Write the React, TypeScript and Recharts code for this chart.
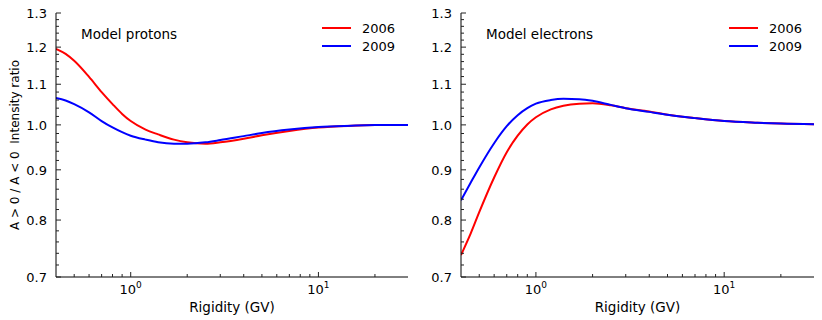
import React from "react";
import { LineChart, Line, XAxis, YAxis, Legend } from "recharts";

// rigidity grid (GV) shared by all curves
const RIGIDITY = [0.4, 0.45, 0.5, 0.6, 0.7, 0.8, 0.9, 1, 1.2, 1.4, 1.7, 2, 2.5, 3, 4, 5, 7, 10, 15, 20, 30];

const PROTONS_2006 = [1.195, 1.181, 1.162, 1.119, 1.08, 1.05, 1.026, 1.009, 0.989, 0.978, 0.966, 0.96, 0.957, 0.96, 0.968, 0.976, 0.986, 0.994, 0.998, 0.9995, 1.0];
const PROTONS_2009 = [1.065, 1.059, 1.05, 1.03, 1.009, 0.994, 0.983, 0.975, 0.966, 0.96, 0.957, 0.957, 0.96, 0.965, 0.974, 0.981, 0.989, 0.995, 0.998, 0.9995, 1.0];

const ELECTRONS_2006 = [0.737, 0.775, 0.815, 0.884, 0.938, 0.975, 1.001, 1.018, 1.037, 1.046, 1.051, 1.052, 1.047, 1.04, 1.032, 1.024, 1.016, 1.009, 1.005, 1.003, 1.0015];
const ELECTRONS_2009 = [0.838, 0.873, 0.905, 0.958, 0.997, 1.023, 1.04, 1.051, 1.06, 1.063, 1.062, 1.058, 1.048, 1.04, 1.031, 1.024, 1.016, 1.009, 1.005, 1.003, 1.0015];

const X_MAJOR = [1, 10];
const X_MINOR = [0.5, 0.6, 0.7, 0.8, 0.9, 2, 3, 4, 5, 6, 7, 8, 9, 20];
const Y_MAJOR = [0.7, 0.8, 0.9, 1.0, 1.1, 1.2, 1.3];
const Y_MINOR = [
  0.72, 0.74, 0.76, 0.78, 0.82, 0.84, 0.86, 0.88, 0.92, 0.94, 0.96, 0.98,
  1.02, 1.04, 1.06, 1.08, 1.12, 1.14, 1.16, 1.18, 1.22, 1.24, 1.26, 1.28,
];

const FONT = "DejaVu Sans";
const MAJOR_LEN = 5;
const MINOR_LEN = 3;
const Y_AXIS_W = 40;

const protonData = RIGIDITY.map((r, i) => ({ r, y2006: PROTONS_2006[i], y2009: PROTONS_2009[i] }));
const electronData = RIGIDITY.map((r, i) => ({ r, y2006: ELECTRONS_2006[i], y2009: ELECTRONS_2009[i] }));

const isMajor = (v: number, majors: number[]) => majors.some((m) => Math.abs(m - v) < 1e-9);

function BottomTick({ x, y, payload }: any) {
  const v = payload.value;
  const major = isMajor(v, X_MAJOR);
  return (
    <g>
      <line x1={x} x2={x} y1={y} y2={y - (major ? MAJOR_LEN : MINOR_LEN)} stroke="#222" />
      {major && (
        <text x={x} y={y + 17} textAnchor="middle" fontFamily={FONT} fontSize={13} fill="#000">
          <tspan>10</tspan>
          <tspan dy={-6} fontSize={9}>{Math.round(Math.log10(v))}</tspan>
        </text>
      )}
    </g>
  );
}

function TopTick({ x, y, payload }: any) {
  const major = isMajor(payload.value, X_MAJOR);
  return <line x1={x} x2={x} y1={y} y2={y + (major ? MAJOR_LEN : MINOR_LEN)} stroke="#222" />;
}

function LeftTick({ x, y, payload }: any) {
  const v = payload.value;
  const major = isMajor(v, Y_MAJOR);
  return (
    <g>
      <line x1={x} x2={x + (major ? MAJOR_LEN : MINOR_LEN)} y1={y} y2={y} stroke="#222" />
      {major && (
        <text x={x - 9} y={y} dy="0.36em" textAnchor="end" fontFamily={FONT} fontSize={13} fill="#000">
          {v.toFixed(1)}
        </text>
      )}
    </g>
  );
}

function RightTick({ x, y, payload }: any) {
  const major = isMajor(payload.value, Y_MAJOR);
  return <line x1={x} x2={x - (major ? MAJOR_LEN : MINOR_LEN)} y1={y} y2={y} stroke="#222" />;
}

function LegendBox({ payload }: any) {
  return (
    <div style={{ fontFamily: FONT, fontSize: 13, color: "#000" }}>
      {(payload || []).map((item: any) => (
        <div key={item.value} style={{ display: "flex", alignItems: "center", height: 18 }}>
          <span style={{ display: "inline-block", width: 29, height: 2, background: item.color, marginRight: 11 }} />
          <span>{item.value}</span>
        </div>
      ))}
    </div>
  );
}

function Panel({
  data,
  title,
  yLabel,
  marginLeft,
  marginRight,
  legendLeft,
}: {
  data: any[];
  title: string;
  yLabel?: string;
  marginLeft: number;
  marginRight: number;
  legendLeft: number;
}) {
  const xTicks = [...X_MINOR, ...X_MAJOR].sort((a, b) => a - b);
  const yTicks = [...Y_MINOR, ...Y_MAJOR].sort((a, b) => a - b);
  return (
    <LineChart
      width={411}
      height={320}
      data={data}
      margin={{ top: 13, right: marginRight, bottom: 0, left: marginLeft }}
    >
      <XAxis
        xAxisId="b"
        dataKey="r"
        type="number"
        scale="log"
        domain={[0.4, 30]}
        allowDataOverflow
        ticks={xTicks}
        interval={0}
        tickSize={0}
        tickMargin={0}
        tickLine={false}
        axisLine={{ stroke: "#000" }}
        height={43}
        tick={(p: any) => <BottomTick {...p} />}
        label={{
          content: ({ viewBox }: any) => (
            <text
              x={viewBox.x + viewBox.width / 2}
              y={viewBox.y + 35}
              textAnchor="middle"
              fontFamily={FONT}
              fontSize={13.5}
              fill="#000"
            >
              Rigidity (GV)
            </text>
          ),
        }}
      />
      <XAxis
        xAxisId="t"
        orientation="top"
        dataKey="r"
        type="number"
        scale="log"
        domain={[0.4, 30]}
        allowDataOverflow
        ticks={xTicks}
        interval={0}
        tickSize={0}
        tickMargin={0}
        tickLine={false}
        axisLine={{ stroke: "#000" }}
        height={0}
        tick={(p: any) => <TopTick {...p} />}
      />
      <YAxis
        yAxisId="l"
        type="number"
        scale="log"
        domain={[0.7, 1.3]}
        allowDataOverflow
        ticks={yTicks}
        interval={0}
        tickSize={0}
        tickMargin={0}
        tickLine={false}
        axisLine={{ stroke: "#000" }}
        width={Y_AXIS_W}
        tick={(p: any) => <LeftTick {...p} />}
        label={
          yLabel
            ? {
                content: ({ viewBox }: any) => {
                  const cx = viewBox.x - 1;
                  const cy = viewBox.y + viewBox.height / 2;
                  return (
                    <text
                      x={cx}
                      y={cy}
                      dy="0.36em"
                      transform={`rotate(-90 ${cx} ${cy})`}
                      textAnchor="middle"
                      fontFamily={FONT}
                      fontSize={12}
                      fill="#000"
                      style={{ whiteSpace: "pre" }}
                    >
                      {yLabel}
                    </text>
                  );
                },
              }
            : undefined
        }
      />
      <YAxis
        yAxisId="r"
        orientation="right"
        type="number"
        scale="log"
        domain={[0.7, 1.3]}
        allowDataOverflow
        ticks={yTicks}
        interval={0}
        tickSize={0}
        tickMargin={0}
        tickLine={false}
        axisLine={{ stroke: "#000" }}
        width={0}
        tick={(p: any) => <RightTick {...p} />}
      />
      <Legend
        layout="vertical"
        align="center"
        verticalAlign="middle"
        content={(p: any) => <LegendBox {...p} />}
        wrapperStyle={{ left: legendLeft, top: 19, width: 90 }}
      />
      <Line
        xAxisId="b"
        yAxisId="l"
        dataKey="y2006"
        name="2006"
        type="monotone"
        stroke="#ff0000"
        strokeWidth={2}
        dot={false}
        isAnimationActive={false}
      />
      <Line
        xAxisId="b"
        yAxisId="l"
        dataKey="y2009"
        name="2009"
        type="monotone"
        stroke="#0000ff"
        strokeWidth={2}
        dot={false}
        isAnimationActive={false}
      />
      <text x={marginLeft + Y_AXIS_W + 25} y={39} fontFamily={FONT} fontSize={13.5} fill="#000">
        {title}
      </text>
    </LineChart>
  );
}

export default function App() {
  return (
    <div
      style={{
        position: "absolute",
        left: 0,
        top: 0,
        width: 822,
        height: 320,
        display: "flex",
        background: "#fff",
      }}
    >
      <Panel
        data={protonData}
        title="Model protons"
        yLabel="A > 0 / A < 0  Intensity ratio"
        marginLeft={16}
        marginRight={3}
        legendLeft={322}
      />
      <Panel
        data={electronData}
        title="Model electrons"
        marginLeft={10}
        marginRight={8}
        legendLeft={318}
      />
    </div>
  );
}
